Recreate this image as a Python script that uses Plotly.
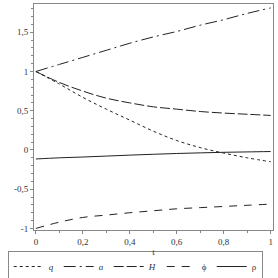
import plotly.graph_objects as go

t = [0, 0.1, 0.2, 0.3, 0.4, 0.5, 0.6, 0.7, 0.8, 0.9, 1.0]
q = [1.0, 0.84, 0.67, 0.52, 0.38, 0.24, 0.12, 0.03, -0.04, -0.10, -0.15]
a = [1.0, 1.09, 1.18, 1.27, 1.36, 1.44, 1.51, 1.59, 1.66, 1.74, 1.81]
H = [1.0, 0.86, 0.75, 0.66, 0.60, 0.55, 0.52, 0.49, 0.47, 0.455, 0.44]
phi = [-1.0, -0.92, -0.86, -0.83, -0.80, -0.775, -0.75, -0.735, -0.72, -0.705, -0.69]
rho = [-0.115, -0.10, -0.09, -0.078, -0.066, -0.055, -0.045, -0.037, -0.03, -0.025, -0.02]

names = ["<i>q</i>", "<i>a</i>", "<i>H</i>", "ϕ", "ρ"]
x_tickvals = [0, 0.2, 0.4, 0.6, 0.8, 1]
x_ticktext = ["0", "0,2", "0,4", "0,6", "0,8", "1"]
y_tickvals = [-1, -0.5, 0, 0.5, 1, 1.5]
y_ticktext = ["-1", "-0,5", "0", "0,5", "1", "1,5"]

series = [q, a, H, phi, rho]
dashes = ["dot", "12px,4px,2px,4px", "10px,3px", "8px,7px", "solid"]

fig = go.Figure()
for y, n, d in zip(series, names, dashes):
    fig.add_trace(go.Scatter(x=t, y=y, name=n, mode="lines",
                             line=dict(color="#222222", width=1, dash=d, shape="spline")))

serif = "Liberation Serif, Times New Roman, serif"
axis_common = dict(showgrid=False, zeroline=False, showline=True, linecolor="#888888",
                   linewidth=1, mirror=True, ticks="outside", ticklen=3, tickcolor="#888888",
                   automargin=False,
                   tickfont=dict(family=serif, size=9, color="#333333"))
fig.update_xaxes(range=[-0.008, 1.01], tickvals=x_tickvals, ticktext=x_ticktext,
                 minor=dict(dtick=0.1, ticks="outside", ticklen=2, tickcolor="#888888"),
                 title=dict(text="t", font=dict(family=serif, size=9, color="#333333"), standoff=2),
                 **axis_common)
fig.update_yaxes(range=[-1.02, 1.86], tickvals=y_tickvals, ticktext=y_ticktext,
                 minor=dict(dtick=0.1, ticks="outside", ticklen=2, tickcolor="#888888"),
                 **axis_common)
fig.update_layout(width=278, height=278, margin=dict(l=34, r=5, t=4, b=48, autoexpand=False),
                  paper_bgcolor="white", plot_bgcolor="white",
                  font=dict(family=serif, size=9, color="#333333"),
                  legend=dict(orientation="h", x=-0.11, xanchor="left", y=-0.093, yanchor="top",
                              bordercolor="#888888", borderwidth=1,
                              font=dict(family=serif, size=9), tracegroupgap=0,
                              itemwidth=30))
fig.write_html("out.html", config={"displayModeBar": False},
               post_script="document.body.style.margin='0';document.body.style.overflow='hidden';")
